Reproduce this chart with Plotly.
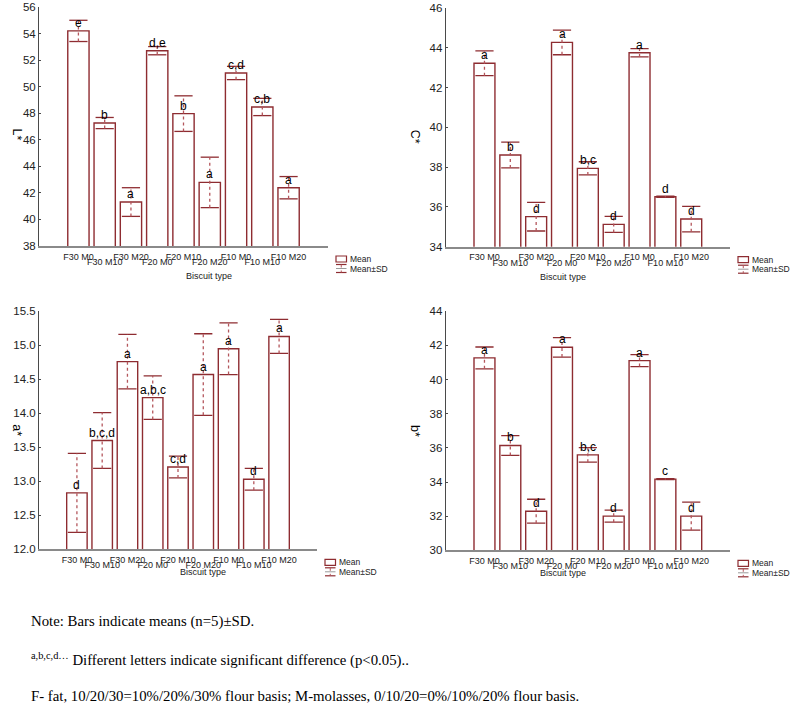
import plotly.graph_objects as go

# ---------------- data ----------------
biscuits = ["F30 M0", "F30 M10", "F30 M20", "F20 M0", "F20 M10", "F20 M20",
            "F10 M0", "F10 M10", "F10 M20"]

L_mean = [54.20, 47.26, 41.31, 52.71, 47.97, 42.79, 51.03, 48.47, 42.39]
L_sd = [0.80, 0.42, 1.08, 0.31, 1.34, 1.90, 0.50, 0.65, 0.84]
L_letters = ["e", "b", "a", "d,e", "b", "a", "c,d", "c,b", "a"]

C_mean = [43.22, 38.61, 35.51, 44.27, 37.94, 35.12, 43.75, 36.51, 35.39]
C_sd = [0.62, 0.65, 0.72, 0.62, 0.33, 0.40, 0.21, 0.03, 0.64]
C_letters = ["a", "b", "d", "a", "b,c", "d", "a", "d", "d"]

a_mean = [12.83, 13.60, 14.76, 14.23, 13.21, 14.57, 14.95, 13.03, 15.13]
a_sd = [0.58, 0.41, 0.40, 0.32, 0.16, 0.60, 0.38, 0.16, 0.25]
a_letters = ["d", "b,c,d", "a", "a,b,c", "c,d", "a", "a", "d", "a"]

b_mean = [41.27, 36.14, 32.29, 41.89, 35.59, 32.00, 41.11, 34.17, 32.00]
b_sd = [0.64, 0.58, 0.70, 0.57, 0.43, 0.35, 0.35, 0.03, 0.82]
b_letters = ["a", "b", "d", "a", "b,c", "d", "a", "c", "d"]

x_title = "Biscuit type"
legend_labels = ["Mean", "Mean±SD"]
notes = [
    "Note: Bars indicate means (n=5)±SD.",
    "<sup>a,b,c,d…</sup> Different letters indicate significant difference (p<0.05)..",
    "F- fat, 10/20/30=10%/20%/30% flour basis; M-molasses, 0/10/20=0%/10%/20% flour basis.",
]

# ---------------- styling / layout ----------------
W, H = 794, 712
BAR_COL = "#8e2c31"
ERR_COL = "#b4565c"
AXIS_COL = "#8a8a8a"
YAXIS_COL = "#4a4a4a"
SANS = "Liberation Sans, Arial, sans-serif"
SERIF = "Liberation Serif, Times New Roman, serif"


def fx(px):
    return px / W


def fy(py):
    return 1 - py / H


panels = [
    dict(mean=L_mean, sd=L_sd, let=L_letters, title="L*", yr=[38, 56], dt=2, fmt="d",
         xd=(39, 328), yd=(7, 246)),
    dict(mean=C_mean, sd=C_sd, let=C_letters, title="C*", yr=[34, 46], dt=2, fmt="d",
         xd=(445.7, 730), yd=(8, 246.7)),
    dict(mean=a_mean, sd=a_sd, let=a_letters, title="a*", yr=[12, 15.5], dt=0.5, fmt=".1f",
         xd=(39, 317), yd=(311.3, 549.3)),
    dict(mean=b_mean, sd=b_sd, let=b_letters, title="b*", yr=[30, 44], dt=2, fmt="d",
         xd=(445.7, 730), yd=(311.3, 550.3)),
]

fig = go.Figure()
annotations = []
shapes = []
layout = {}

for k, p in enumerate(panels):
    n = k + 1
    xa = "x" if n == 1 else f"x{n}"
    xo = f"x{n + 4}"          # overlay axis carrying the second row of tick labels
    ya = "y" if n == 1 else f"y{n}"
    mean, sd = p["mean"], p["sd"]

    fig.add_trace(go.Bar(
        x=biscuits, y=mean, xaxis=xa, yaxis=ya, width=0.81,
        marker=dict(color="white", line=dict(color=BAR_COL, width=1.4)),
        showlegend=False, hoverinfo="skip"))

    ex, ey = [], []
    for b, m, s in zip(biscuits, mean, sd):
        ex += [b, b, None]
        ey += [m - s, m + s, None]
    fig.add_trace(go.Scatter(
        x=ex, y=ey, xaxis=xo, yaxis=ya, mode="lines",
        line=dict(color=ERR_COL, width=1.3, dash="dot"),
        showlegend=False, hoverinfo="skip"))
    fig.add_trace(go.Scatter(
        x=biscuits + biscuits,
        y=[m + s for m, s in zip(mean, sd)] + [m - s for m, s in zip(mean, sd)],
        xaxis=xa, yaxis=ya, mode="markers",
        marker=dict(symbol="line-ew", size=13, line=dict(color=BAR_COL, width=1.3)),
        showlegend=False, hoverinfo="skip"))

    for b, m, t in zip(biscuits, mean, p["let"]):
        annotations.append(dict(
            x=b, y=m, xref=xa, yref=ya, text=t, showarrow=False,
            yanchor="bottom", yshift=-1, font=dict(family=SANS, size=12, color="black")))

    x0, x1 = p["xd"]
    y0, y1 = p["yd"]
    common_x = dict(
        domain=[fx(x0), fx(x1)], anchor=ya, type="category", range=[-1.5, 9.5],
        categoryorder="array", categoryarray=biscuits,
        ticks="", tickangle=0, showgrid=False, zeroline=False, automargin=False,
        tickfont=dict(family=SANS, size=9, color="#222"), fixedrange=True)
    layout["xaxis" if n == 1 else f"xaxis{n}"] = dict(
        common_x, tickvals=biscuits[0::2], ticktext=biscuits[0::2], showline=True,
        linecolor=AXIS_COL, linewidth=1.5, ticklabelstandoff=1)
    layout[f"xaxis{n + 4}"] = dict(
        common_x, overlaying=xa, side="bottom", tickvals=biscuits[1::2],
        ticktext=biscuits[1::2], showline=False, ticklabelstandoff=9)
    layout["yaxis" if n == 1 else f"yaxis{n}"] = dict(
        domain=[fy(y1), fy(y0)], anchor=xa, range=p["yr"], dtick=p["dt"],
        tick0=p["yr"][0], tickformat=p["fmt"], showline=True, linecolor=YAXIS_COL,
        linewidth=1, ticks="inside", ticklen=2, tickcolor=YAXIS_COL,
        showgrid=False, zeroline=False, automargin=False,
        tickfont=dict(family=SANS, size=11.5, color="#222"), fixedrange=True)

    annotations.append(dict(
        x=fx(x0 - 31), y=fy((y0 + y1) / 2), xref="paper", yref="paper",
        text=p["title"], textangle=90, showarrow=False,
        font=dict(family=SANS, size=12.5, color="black")))
    annotations.append(dict(
        x=fx((x0 + x1) / 2), y=fy(y1 + 30), xref="paper", yref="paper",
        text=x_title, showarrow=False,
        font=dict(family=SANS, size=9, color="#222")))

    # legend (drawn manually)
    lx = x1 + 8
    ly = y1 + 10
    shapes.append(dict(type="rect", xref="paper", yref="paper",
                       x0=fx(lx), x1=fx(lx + 10.5), y0=fy(ly + 6), y1=fy(ly),
                       line=dict(color=BAR_COL, width=1.2), fillcolor="white"))
    sy0, sy1 = ly + 8.5, ly + 16.5
    shapes.append(dict(type="line", xref="paper", yref="paper",
                       x0=fx(lx), x1=fx(lx + 10.5), y0=fy(sy0), y1=fy(sy0),
                       line=dict(color=BAR_COL, width=1.2)))
    shapes.append(dict(type="line", xref="paper", yref="paper",
                       x0=fx(lx), x1=fx(lx + 10.5), y0=fy(sy1), y1=fy(sy1),
                       line=dict(color=BAR_COL, width=1.2)))
    shapes.append(dict(type="line", xref="paper", yref="paper",
                       x0=fx(lx + 5.25), x1=fx(lx + 5.25), y0=fy(sy0), y1=fy(sy1),
                       line=dict(color=ERR_COL, width=1, dash="dot")))
    shapes.append(dict(type="line", xref="paper", yref="paper",
                       x0=fx(lx), x1=fx(lx + 10.5), y0=fy((sy0 + sy1) / 2),
                       y1=fy((sy0 + sy1) / 2),
                       line=dict(color="#9a9a9a", width=1)))
    annotations.append(dict(
        x=fx(lx + 13), y=fy(ly + 3), xref="paper", yref="paper", text=legend_labels[0],
        showarrow=False, xanchor="left", yanchor="middle", borderpad=0,
        font=dict(family=SANS, size=8.5, color="#222")))
    annotations.append(dict(
        x=fx(lx + 13), y=fy(ly + 12.5), xref="paper", yref="paper", text=legend_labels[1],
        showarrow=False, xanchor="left", yanchor="middle", borderpad=0,
        font=dict(family=SANS, size=8.5, color="#222")))

note_y = [621, 659, 696]
for t, yy in zip(notes, note_y):
    annotations.append(dict(
        x=fx(29), y=fy(yy), xref="paper", yref="paper", text=t, showarrow=False,
        xanchor="left", yanchor="middle", font=dict(family=SERIF, size=14.8, color="black")))

fig.update_layout(
    template="none",
    width=W, height=H, margin=dict(l=0, r=0, t=0, b=0, autoexpand=False),
    paper_bgcolor="white", plot_bgcolor="white", showlegend=False,
    annotations=annotations, shapes=shapes, **layout)

fig.write_html("out.html",
               config={"displayModeBar": False},
               post_script="document.body.style.margin='0px';"
                           "document.body.style.overflow='hidden';")
